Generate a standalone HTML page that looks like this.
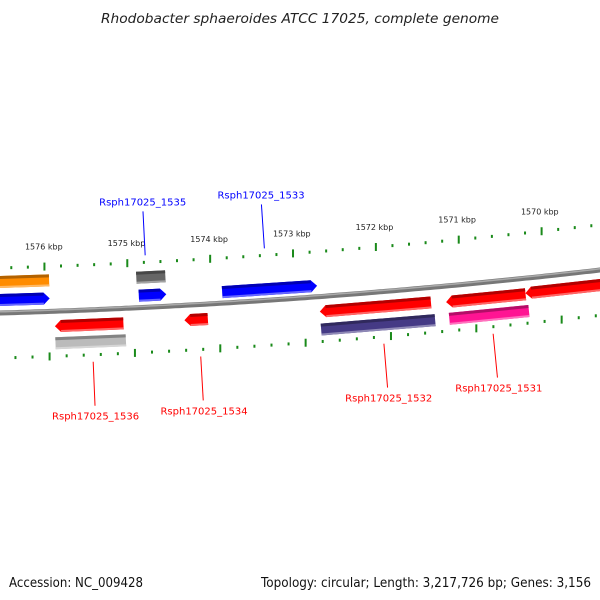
<!DOCTYPE html>
<html><head><meta charset="utf-8"><style>
body{margin:0;background:#fff}
svg{display:block;font-family:"DejaVu Sans","Liberation Sans",sans-serif}
</style></head><body>
<svg id="c" width="600" height="600" viewBox="0 0 600 600">
<text x="101" y="23" textLength="398" lengthAdjust="spacingAndGlyphs" font-size="13" font-style="italic" fill="#222">Rhodobacter sphaeroides ATCC 17025, complete genome</text>
<text x="9" y="587" textLength="134" lengthAdjust="spacingAndGlyphs" font-size="13" fill="#111">Accession: NC_009428</text>
<text x="261" y="587" textLength="330" lengthAdjust="spacingAndGlyphs" font-size="13" fill="#111">Topology: circular; Length: 3,217,726 bp; Genes: 3,156</text>
<g id="g"></g>
</svg>
<script>
const tickKbp=[1577,1576,1575,1574,1573,1572,1571,1570,1569];
const geneStart=[1576.6,1576.6,1574.90,1574.88,1573.88,1575.90,1575.90,1574.35,1572.73,1572.73,1571.22,1571.20,1570.27];
const geneEnd=[1575.95,1575.95,1574.55,1574.55,1572.74,1575.08,1575.06,1574.07,1571.40,1571.37,1570.27,1570.25,1569.30];
const geneDir=[0,1,0,1,1,-1,0,-1,-1,0,-1,0,-1];
const geneOff=[-31,-13,-30,-12,-11,15,32,15,15,33,16,33,15];
const geneColor=['#ff8c00','#0000ff','#666666','#0000ff','#0000ff','#ff0000','#bbbbbb','#ff0000','#ff0000','#453a85','#ff0000','#ff1493','#ff0000'];
const labelNames=['Rsph17025_1535','Rsph17025_1533','Rsph17025_1536','Rsph17025_1534','Rsph17025_1532','Rsph17025_1531'];
const labelKbp=[1574.78,1573.34,1575.46,1574.18,1572.00,1570.70];
const labelSide=[-1,-1,1,1,1,1];
const NS='http://www.w3.org/2000/svg';
const G=document.getElementById('g');
function xk(k){return 46+(1576-k)*83.4;}
function yb(x){return 313-0.0283*x-7.22e-5*x*x;}
function slope(x){return -0.0283-2*7.22e-5*x;}
function pt(x,off){const s=slope(x),n=Math.sqrt(1+s*s);return [x-s*off/n,yb(x)+off/n];}
function mk(t,a){const e=document.createElementNS(NS,t);for(const k in a)e.setAttribute(k,a[k]);G.appendChild(e);return e;}
let d='';for(let x=-5;x<=605;x+=5){const p=pt(x,0);d+=(x==-5?'M':'L')+p[0].toFixed(1)+' '+p[1].toFixed(1);}
const bb=mk('path',{d:d,stroke:'#777',fill:'none','stroke-width':5});


const bb2=mk('path',{d:d,stroke:'#aaa',fill:'none','stroke-width':1.5,transform:'translate(0,-1.2)'});


tickKbp.forEach((k,i)=>{
 for(let j=0;j<5;j++){
  const kk=k-j*0.2;const x=xk(kk);
  [-45,45].forEach(off=>{
   const xx= off>0 ? 48+(1576-kk)*84.8 : x;
   const p=pt(xx,off);const major=j==0;
   const r=mk('rect',{x:p[0]-1,y:p[1]-(major?4:1.5),width:2,height:major?8:3,fill:'#1a8a1a'});
   
   
  });
 }
 const x=xk(k);const p=pt(x,-62);
 const t=mk('text',{x:p[0],y:p[1],'font-size':8,'text-anchor':'middle',fill:'#222'});
 t.textContent=k+' kbp';
 
 
});
function shade(c,f){const n=parseInt(c.slice(1),16);let r=n>>16,g=(n>>8)&255,b=n&255;
 if(f<0){r*=1+f;g*=1+f;b*=1+f;}else{r+= (255-r)*f;g+=(255-g)*f;b+=(255-b)*f;}
 return 'rgb('+Math.round(r)+','+Math.round(g)+','+Math.round(b)+')';}
geneStart.forEach((s,i)=>{
 let x1=xk(s),x2=xk(geneEnd[i]);const off=geneOff[i],h=6,c=geneColor[i],dir=geneDir[i];
 const A=pt(x1,off-h),B=pt(x2,off-h),C=pt(x2,off+h),D=pt(x1,off+h);
 let pts;
 if(dir==1){const B2=pt(x2-6,off-h),C2=pt(x2-6,off+h),T=pt(x2,off);pts=[A,B2,T,C2,D];}
 else if(dir==-1){const A2=pt(x1+6,off-h),D2=pt(x1+6,off+h),T=pt(x1,off);pts=[A2,B,C,D2,T];}
 else pts=[A,B,C,D];
 const poly=mk('polygon',{points:pts.map(p=>p[0].toFixed(1)+','+p[1].toFixed(1)).join(' '),fill:c});
 
 
 const ax=dir==-1?x1+6:x1,bx=dir==1?x2-6:x2;
 const t1=pt(ax,off-h),t2=pt(bx,off-h),t3=pt(bx,off-h+3),t4=pt(ax,off-h+3);
 const top=mk('polygon',{points:[t1,t2,t3,t4].map(p=>p.join(',')).join(' '),fill:shade(c,-0.3)});
 
 
 const u1=pt(ax,off+h-2),u2=pt(bx,off+h-2),u3=pt(bx,off+h),u4=pt(ax,off+h);
 const bot=mk('polygon',{points:[u1,u2,u3,u4].map(p=>p.join(',')).join(' '),fill:shade(c,0.4)});
 
 
});
labelNames.forEach((n,i)=>{
 const x=xk(labelKbp[i]);const side=labelSide[i];const col=side<0?'#0000ff':'#ff0000';
 const a=pt(x,side*52),b=pt(x,side*96),tp=pt(x,side*102+(side>0?8:0));
 const l=mk('line',{x1:a[0],y1:a[1],x2:b[0],y2:b[1],stroke:col,'stroke-width':1});
 
 
 const t=mk('text',{x:tp[0],y:tp[1],'font-size':10,'text-anchor':'middle',fill:col});
 t.textContent=n;
 
 
});
</script>
</body></html>
